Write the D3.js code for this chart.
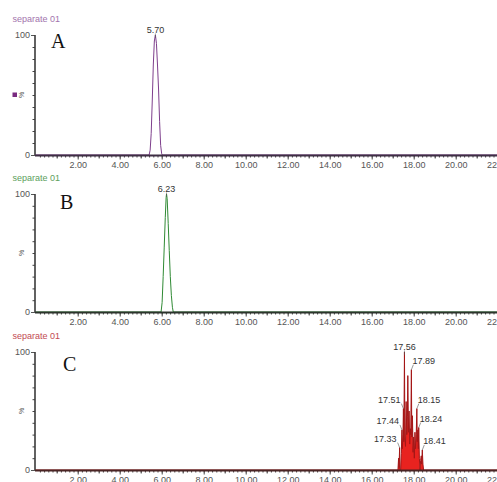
<!DOCTYPE html>
<html>
<head>
<meta charset="utf-8">
<script src="https://cdn.jsdelivr.net/npm/d3@7"></script>
<style>
  html, body { margin: 0; padding: 0; background: #fff; }
  svg { display: block; font-family: "Liberation Sans", Arial, sans-serif; }
</style>
</head>
<body>
<svg id="chart" width="497" height="482"></svg>
<script>
// ---------------- DATA ----------------
const xTickLabels = ["2.00","4.00","6.00","8.00","10.00","12.00","14.00","16.00","18.00","20.00","22.00"];
const yTickLabels = ["0","100"];
const panelTitles = ["separate 01","separate 01","separate 01"];
const panelLetters = ["A","B","C"];

// Trace A (retention time, min ; relative intensity, %)
const timeA = [0, 5.40, 5.45, 5.50, 5.55, 5.60, 5.65, 5.70, 5.75, 5.80, 5.85, 5.90, 5.95, 6.00, 6.03, 22.6];
const intensityA = [0, 0, 4, 18, 45, 75, 95, 100, 93, 75, 55, 28, 8, 1, 0, 0];
const peaksA = [5.70];
const peakHeightsA = [100];

// Trace B
const timeB = [0, 5.97, 6.02, 6.07, 6.12, 6.17, 6.21, 6.23, 6.26, 6.31, 6.36, 6.41, 6.46, 6.51, 6.55, 22.6];
const intensityB = [0, 0, 8, 30, 55, 80, 97, 100, 96, 75, 52, 30, 14, 4, 0, 0];
const peaksB = [6.23];
const peakHeightsB = [100];

// Trace C
const timeC = [0, 17.25, 17.28, 17.30, 17.33, 17.35, 17.38, 17.41, 17.44, 17.46, 17.49, 17.51, 17.53, 17.56, 17.58,
  17.61, 17.64, 17.67, 17.70, 17.72, 17.75, 17.78, 17.81, 17.84, 17.86, 17.89, 17.91, 17.94, 17.97, 18.00,
  18.03, 18.06, 18.09, 18.12, 18.15, 18.17, 18.20, 18.22, 18.24, 18.27, 18.30, 18.33, 18.36, 18.38, 18.41, 18.44, 18.47, 22.6];
const intensityC = [0, 0, 10, 2, 19, 0, 0, 14, 34, 18, 30, 52, 24, 100, 28,
  20, 58, 30, 45, 80, 32, 50, 22, 35, 30, 85, 28, 46, 15, 28,
  10, 32, 18, 30, 52, 24, 34, 18, 36, 10, 0, 8, 12, 5, 17, 5, 0, 0];
const peaksC = [17.33, 17.44, 17.51, 17.56, 17.89, 18.15, 18.24, 18.41];
const peakHeightsC = [19, 34, 52, 100, 85, 52, 36, 17];

// ---------------- LAYOUT ----------------
const SANS = "'Liberation Sans', Arial, sans-serif";
const SERIF = "'Liberation Serif', 'Times New Roman', serif";
const svg = d3.select("#chart");
const x = d3.scaleLinear().domain([0, 22.6]).range([35.7, 35.7 + 22.6 * 21]);

const panels = [
  { time: timeA, inten: intensityA, peaks: peaksA, heights: peakHeightsA, top: 35, bottom: 155,
    title: "#a274ad", line: "#7e3f8c", fill: null, axis: "#3e2e44", letterX: 51, letterDy: 12.5, marker: "#7a2a80" },
  { time: timeB, inten: intensityB, peaks: peaksB, heights: peakHeightsB, top: 194, bottom: 312,
    title: "#5da05d", line: "#2f8a34", fill: null, axis: "#2c342c", letterX: 60, letterDy: 15, marker: null },
  { time: timeC, inten: intensityC, peaks: peaksC, heights: peakHeightsC, top: 352, bottom: 470,
    title: "#c24a52", line: "#a41616", fill: "#e8231f", axis: "#4a2424", letterX: 63, letterDy: 18.5, marker: null }
];

panels.forEach((p, i) => {
  const y = d3.scaleLinear().domain([0, 100]).range([p.bottom, p.top]);
  const g = svg.append("g");

  // title
  g.append("text").attr("x", 12.5).attr("y", p.top - 13.5).style("font-family", SANS)
    .attr("font-size", 9).attr("fill", p.title).text(panelTitles[i]);

  // y axis
  const yMinor = d3.axisLeft(y).tickValues(d3.range(10, 100, 10)).tickSize(2.5).tickFormat("");
  const gyMinor = g.append("g").attr("transform", "translate(35,0)").call(yMinor);
  gyMinor.select(".domain").remove();
  gyMinor.selectAll("line").attr("stroke", "#444");
  const yMajor = d3.axisLeft(y).tickValues([0, 100]).tickSize(4).tickPadding(1)
    .tickFormat((d, k) => yTickLabels[k]);
  const gy = g.append("g").attr("transform", "translate(35,0)").call(yMajor);
  gy.select(".domain").remove();
  gy.selectAll("line").attr("stroke", "#555");
  gy.selectAll("text").attr("font-size", 9).attr("fill", "#555").style("font-family", SANS);
  g.append("line").attr("x1", 35).attr("x2", 35).attr("y1", y(100)).attr("y2", y(0))
    .attr("stroke", "#3a3a3a").attr("stroke-width", 1.6);

  // % label
  const ymid = (p.top + p.bottom) / 2;
  g.append("text").attr("transform", `translate(24,${ymid}) rotate(-90)`).style("font-family", SANS)
    .attr("text-anchor", "middle").attr("font-size", 7).attr("fill", "#555").text("%");
  if (p.marker) {
    g.append("rect").attr("x", 12.5).attr("y", ymid - 2.5).attr("width", 4.5).attr("height", 4.5).attr("fill", p.marker);
  }

  // letter
  g.append("text").attr("x", p.letterX).attr("y", p.top + p.letterDy)
    .style("font-family", SERIF)
    .attr("font-size", 20).attr("fill", "#111").text(panelLetters[i]);

  // trace
  const pts = p.time.map((t, k) => [t, p.inten[k]]);
  if (p.fill) {
    const area = d3.area().x(d => x(d[0])).y0(y(0)).y1(d => y(d[1]));
    g.append("path").datum(pts).attr("d", area).attr("fill", p.fill);
  }
  const line = d3.line().x(d => x(d[0])).y(d => y(d[1]));
  g.append("path").datum(pts).attr("d", line).attr("fill", "none")
    .attr("stroke", p.line).attr("stroke-width", 1);

  // x axis
  const xMinor = d3.axisBottom(x).tickValues(d3.range(0.2, 22.6, 0.2)).tickSize(2.5).tickFormat("");
  const gxm = g.append("g").attr("transform", `translate(0,${p.bottom})`).call(xMinor);
  gxm.select(".domain").remove();
  gxm.selectAll("line").attr("stroke", "#444");
  const xMid = d3.axisBottom(x).tickValues(d3.range(1, 23, 2)).tickSize(3.5).tickFormat("");
  const gxd = g.append("g").attr("transform", `translate(0,${p.bottom})`).call(xMid);
  gxd.select(".domain").remove();
  gxd.selectAll("line").attr("stroke", "#444");
  const xMajor = d3.axisBottom(x).tickValues(d3.range(2, 23, 2)).tickSize(4.5).tickPadding(2)
    .tickFormat((d, k) => xTickLabels[k]);
  const gx = g.append("g").attr("transform", `translate(0,${p.bottom})`).call(xMajor);
  gx.select(".domain").remove();
  gx.selectAll("line").attr("stroke", "#444");
  gx.selectAll("text").attr("font-size", 9).attr("fill", "#555").style("font-family", SANS);
  g.append("line").attr("x1", 35).attr("x2", 497).attr("y1", p.bottom + 0.5).attr("y2", p.bottom + 0.5)
    .attr("stroke", p.axis).attr("stroke-width", 2);

  // peak labels
  const maxH = d3.max(p.heights);
  p.peaks.forEach((t, k) => {
    const px = x(t), py = y(p.heights[k]);
    const lab = d3.format(".2f")(t);
    if (p.heights[k] === maxH) {
      g.append("line").attr("x1", px).attr("x2", px).attr("y1", py - 1.5).attr("y2", py + 3)
        .attr("stroke", "#555").attr("stroke-width", 0.6);
      g.append("text").attr("x", px).attr("y", py - 2.5).attr("text-anchor", "middle").style("font-family", SANS)
        .attr("font-size", 9).attr("fill", "#333").text(lab);
    } else {
      const left = t < p.peaks[p.heights.indexOf(maxH)];
      const tx = left ? px - 3 : px + 1;
      g.append("line").attr("x1", left ? px - 2 : px + 2).attr("x2", px)
        .attr("y1", py - 5).attr("y2", py).attr("stroke", "#555").attr("stroke-width", 0.6);
      g.append("text").attr("x", tx).attr("y", py - 6).attr("text-anchor", left ? "end" : "start").style("font-family", SANS)
        .attr("font-size", 9).attr("fill", "#333").text(lab);
    }
  });
});
</script>
</body>
</html>
